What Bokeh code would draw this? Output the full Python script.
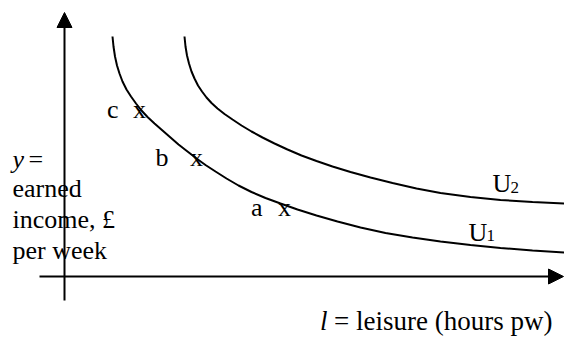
from bokeh.plotting import figure
from bokeh.models import ColumnDataSource, Range1d, Arrow, NormalHead
from bokeh.core.properties import value
from bokeh.embed import file_html
from bokeh.resources import INLINE

# ---- data (leisure l on x, earned income y on y; arbitrary units) ----
u1_l = [48, 49, 50.5, 52.5, 55, 58, 62, 66.5, 71.5, 77, 83, 90, 98, 106, 114, 123, 132,
        141, 151, 162, 174, 187, 201, 216, 233, 252, 273, 296, 321, 348, 376, 406, 436,
        468, 500]
u1_y = [240, 230, 220, 211, 203, 195, 187, 180, 173, 166, 159.5, 153, 146, 139, 132, 125,
        118, 111.5, 105, 98, 91, 84.5, 78.5, 73, 67, 61, 55, 49, 43.5, 39, 35, 31.5, 28.5,
        26, 24]
u2_l = [120, 121, 122.5, 124.5, 127, 130, 133.5, 137.5, 142, 147, 153, 160, 168, 177, 187,
        198, 210, 223, 237, 252, 268, 286, 306, 328, 352, 376, 406, 436, 468, 500]
u2_y = [240, 230, 221, 213, 205, 198, 191, 185, 179, 173.5, 168, 162.5, 157, 151, 145, 139,
        133, 127, 121, 115.5, 110, 104.5, 99, 93.5, 88, 83.5, 79.5, 76.5, 74.5, 73]
point_names = ["c", "b", "a"]
point_l = [75, 132, 220]
point_y = [167, 119, 69]
y_axis_label = ["earned", "income, \u00a3", "per week"]
x_axis_label = "= leisure (hours pw)"

SERIF = value("Liberation Serif")

p = figure(width=564, height=338, output_backend="svg", toolbar_location=None,
           x_range=Range1d(-64, 500), y_range=Range1d(-62, 276),
           x_axis_location=None, y_axis_location=None, min_border=0)
p.grid.visible = False
p.outline_line_color = None
p.background_fill_color = "white"
p.border_fill_color = "white"

# axes with arrows
p.add_layout(Arrow(x_start=0, y_start=-24, x_end=0, y_end=264,
                   line_width=2, line_color="black",
                   end=NormalHead(size=15, fill_color="black", line_color="black", line_width=1)))
p.add_layout(Arrow(x_start=-25, y_start=0, x_end=499, y_end=0,
                   line_width=2, line_color="black",
                   end=NormalHead(size=15, fill_color="black", line_color="black", line_width=1)))

# indifference curves
p.line(u1_l, u1_y, line_color="black", line_width=2)
p.line(u2_l, u2_y, line_color="black", line_width=2)

# points marked with x
pts = ColumnDataSource(dict(x=point_l, y=point_y, name=point_names,
                            off=[-21, -28, -22]))
p.text(x="x", y="y", text=value("x"), source=pts, text_font=SERIF,
       text_font_size="26px", text_align="center", text_baseline="middle",
       text_color="black")
p.text(x="x", y="y", text="name", source=pts, text_font=SERIF,
       text_font_size="26px", text_align="right", text_baseline="middle",
       x_offset="off", text_color="black")

# y-axis label
p.text(x=[-52], y=[117], text=["y"], text_font=SERIF, text_font_style="italic",
       text_font_size="26px", text_baseline="alphabetic", text_color="black")
p.text(x=[-36], y=[117], text=["="], text_font=SERIF,
       text_font_size="26px", text_baseline="alphabetic", text_color="black")
p.text(x=[-52, -52, -52], y=[88, 57, 26], text=y_axis_label, text_font=SERIF,
       text_font_size="26px", text_baseline="alphabetic", text_color="black")

# x-axis label
p.text(x=[488], y=[-44], text=[x_axis_label], text_font=SERIF, text_align="right",
       text_font_size="27px", text_baseline="alphabetic", text_color="black")
p.text(x=[488], y=[-44], text=["l"], text_font=SERIF, text_font_style="italic",
       text_align="right", x_offset=-225,
       text_font_size="27px", text_baseline="alphabetic", text_color="black")

# curve labels
p.text(x=[428, 404], y=[93, 44], text=["U", "U"], text_font=SERIF,
       text_font_size="26px", text_baseline="alphabetic", text_color="black")
p.text(x=[446, 422], y=[89, 41], text=["2", "1"], text_font=SERIF,
       text_font_size="17px", text_baseline="alphabetic", text_color="black")

open("out.html", "w").write(file_html(p, INLINE))
